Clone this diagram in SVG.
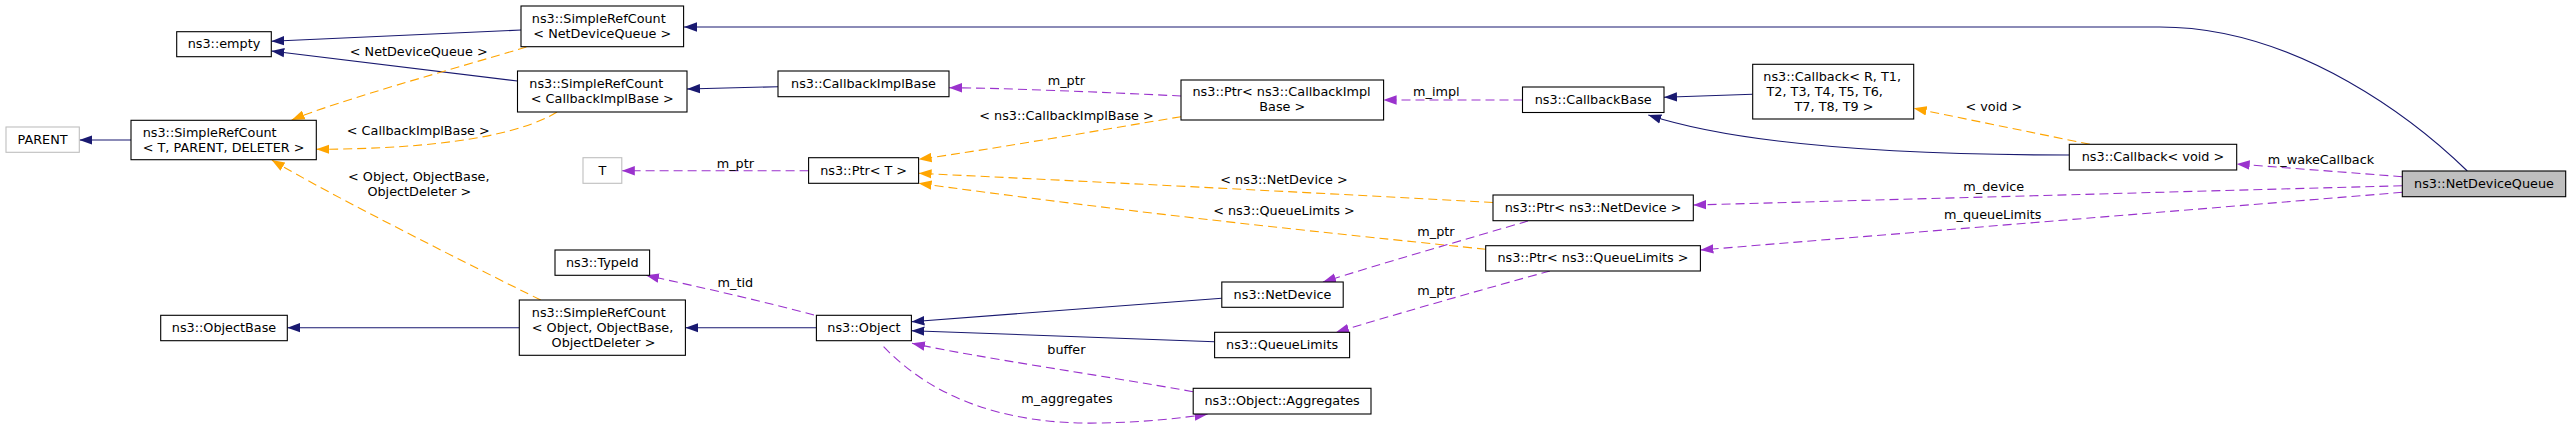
<svg xmlns="http://www.w3.org/2000/svg" width="2571" height="430" viewBox="0 0 2571 430">
<style>
text{font-family:"DejaVu Sans","Liberation Sans",sans-serif;font-size:12.8px;fill:#000}
.m{text-anchor:middle}
.node rect{fill:#fff;stroke:#000;stroke-width:1.1}
.node.grey rect{stroke:#bfbfbf}
.node.focus rect{fill:#bfbfbf}
.inh{fill:none;stroke:#191970;stroke-width:1.1;marker-end:url(#aN)}
.use{fill:none;stroke:#9a32cd;stroke-width:1.1;stroke-dasharray:9,5;marker-end:url(#aP)}
.tpl{fill:none;stroke:#ffa500;stroke-width:1.1;stroke-dasharray:9,5;marker-end:url(#aO)}
</style>
<defs>
<marker id="aN" markerUnits="userSpaceOnUse" markerWidth="13" markerHeight="10" viewBox="0 0 13 10" refX="13" refY="5" orient="auto"><path d="M0,0.3 L13,5 L0,9.7 z" fill="#191970"/></marker>
<marker id="aP" markerUnits="userSpaceOnUse" markerWidth="13" markerHeight="10" viewBox="0 0 13 10" refX="13" refY="5" orient="auto"><path d="M0,0.3 L13,5 L0,9.7 z" fill="#9a32cd"/></marker>
<marker id="aO" markerUnits="userSpaceOnUse" markerWidth="13" markerHeight="10" viewBox="0 0 13 10" refX="13" refY="5" orient="auto"><path d="M0,0.3 L13,5 L0,9.7 z" fill="#ffa500"/></marker>
</defs>
<rect width="2571" height="430" fill="#fff"/>
<g id="edges">
<path class="inh" d="M2467.3,171 C2420,125 2300,27 2160,27 L684,27"/>
<path class="inh" d="M521,30 L271.3,41.3"/>
<path class="inh" d="M517.5,81 L271.3,51"/>
<path class="inh" d="M131,140 L79.3,140"/>
<path class="tpl" d="M526.4,47 C450,70 340,100 291.7,120"/>
<text class="m" x="418.7" y="56">&lt; NetDeviceQueue &gt;</text>
<path class="tpl" d="M557,112 C520,135 440,149 316.3,149.3"/>
<text class="m" x="418.3" y="134.5">&lt; CallbackImplBase &gt;</text>
<path class="tpl" d="M540.7,300 C480,270 330,195 271.7,160"/>
<text class="m" x="418.8" y="181">&lt; Object, ObjectBase,</text>
<text class="m" x="419.3" y="195.5">ObjectDeleter &gt;</text>
<path class="inh" d="M519.3,327.7 L287.3,327.7"/>
<path class="inh" d="M778,86.7 L687,89"/>
<path class="use" d="M1181,96 C1100,92 1000,88 949,87.7"/>
<text class="m" x="1066.4" y="84.5">m_ptr</text>
<path class="tpl" d="M1181,116.7 C1100,130 1000,148 918.6,159.3"/>
<text class="m" x="1066.5" y="119.5">&lt; ns3::CallbackImplBase &gt;</text>
<path class="use" d="M808.6,170.7 L621.8,170.7"/>
<text class="m" x="735.4" y="168">m_ptr</text>
<path class="tpl" d="M1493,202.5 C1300,192 1100,182 918.6,173.3"/>
<text class="m" x="1284" y="183.5">&lt; ns3::NetDevice &gt;</text>
<path class="tpl" d="M1485.7,249.3 C1380,238 1180,219 918.6,183.3"/>
<text class="m" x="1284" y="215">&lt; ns3::QueueLimits &gt;</text>
<path class="use" d="M814,315 C770,303 700,287 646,275.3"/>
<text class="m" x="735.4" y="286.5">m_tid</text>
<path class="inh" d="M816.4,327.7 L685.4,327.7"/>
<path class="inh" d="M1221.8,298.3 L911.4,321.7"/>
<path class="inh" d="M1214.6,341.7 L911.4,330.7"/>
<path class="use" d="M1193,391.7 C1100,375 980,358 912,343.3"/>
<text class="m" x="1066.4" y="354">buffer</text>
<path class="use" d="M883.6,346.7 C930,395 1000,425 1100,423 C1150,422 1180,418 1207.5,414.3"/>
<text class="m" x="1067" y="402.5">m_aggregates</text>
<path class="use" d="M1528,221 C1470,238 1380,264 1323,282"/>
<text class="m" x="1436" y="236">m_ptr</text>
<path class="use" d="M1550,271 C1480,290 1390,316 1336,332.3"/>
<text class="m" x="1436" y="295">m_ptr</text>
<path class="use" d="M1522.5,100 L1383.6,100"/>
<text class="m" x="1436.4" y="96">m_impl</text>
<path class="inh" d="M1752.7,94.3 L1664,97.3"/>
<path class="inh" d="M2069.3,155 C1900,155 1740,145 1648.3,115"/>
<path class="tpl" d="M2090,144.3 L1913.7,108.3"/>
<text class="m" x="1993.8" y="111">&lt; void &gt;</text>
<path class="use" d="M2402.3,176.7 L2236.7,164"/>
<text class="m" x="2321" y="163.5">m_wakeCallback</text>
<path class="use" d="M2402.3,185.7 L1693.3,205"/>
<text class="m" x="1993.8" y="191">m_device</text>
<path class="use" d="M2402.3,192.3 L1700.4,250"/>
<text class="m" x="1992.8" y="218.5">m_queueLimits</text>
</g>
<g id="node-parent" class="node grey"><rect x="6" y="127" width="73.3" height="25.3"/><text class="m" x="42.6" y="143.7">PARENT</text></g>
<g id="node-empty" class="node"><rect x="176.7" y="31.7" width="94.6" height="25"/><text class="m" x="224" y="48.2">ns3::empty</text></g>
<g id="node-simplerefcount-tpd" class="node"><rect x="131" y="120.3" width="185.3" height="39.4"/><text x="142.7" y="136.5">ns3::SimpleRefCount</text><text class="m" x="223.6" y="151.5">&lt; T, PARENT, DELETER &gt;</text></g>
<g id="node-objectbase" class="node"><rect x="160.7" y="315.3" width="126.6" height="25.4"/><text class="m" x="224" y="332">ns3::ObjectBase</text></g>
<g id="node-simplerefcount-ndq" class="node"><rect x="521" y="6" width="162.6" height="40.7"/><text x="531.8" y="23">ns3::SimpleRefCount</text><text class="m" x="602.3" y="38">&lt; NetDeviceQueue &gt;</text></g>
<g id="node-simplerefcount-cib" class="node"><rect x="517.5" y="71" width="169.5" height="41"/><text x="529.3" y="88">ns3::SimpleRefCount</text><text class="m" x="602.3" y="103">&lt; CallbackImplBase &gt;</text></g>
<g id="node-callbackimplbase" class="node"><rect x="778" y="71" width="171" height="25.7"/><text class="m" x="863.5" y="88">ns3::CallbackImplBase</text></g>
<g id="node-t" class="node grey"><rect x="583" y="157.7" width="38.8" height="25.6"/><text class="m" x="602.4" y="174.5">T</text></g>
<g id="node-ptr-t" class="node"><rect x="808.6" y="157.7" width="110" height="25.6"/><text class="m" x="863.6" y="174.5">ns3::Ptr&lt; T &gt;</text></g>
<g id="node-typeid" class="node"><rect x="555" y="250" width="94.6" height="25.3"/><text class="m" x="602.3" y="266.7">ns3::TypeId</text></g>
<g id="node-simplerefcount-object" class="node"><rect x="519.3" y="300" width="166.1" height="55.3"/><text x="531.8" y="316.7">ns3::SimpleRefCount</text><text x="531.8" y="331.7">&lt; Object, ObjectBase,</text><text class="m" x="603.5" y="346.7">ObjectDeleter &gt;</text></g>
<g id="node-object" class="node"><rect x="816.4" y="315.3" width="95" height="25.4"/><text class="m" x="863.9" y="332">ns3::Object</text></g>
<g id="node-ptr-callbackimplbase" class="node"><rect x="1181" y="80" width="202.6" height="40"/><text x="1192.5" y="96">ns3::Ptr&lt; ns3::CallbackImpl</text><text class="m" x="1282.3" y="111">Base &gt;</text></g>
<g id="node-netdevice" class="node"><rect x="1221.8" y="282" width="121.4" height="25.3"/><text class="m" x="1282.5" y="298.6">ns3::NetDevice</text></g>
<g id="node-queuelimits" class="node"><rect x="1214.6" y="332.3" width="135" height="25.4"/><text class="m" x="1282.1" y="349">ns3::QueueLimits</text></g>
<g id="node-aggregates" class="node"><rect x="1193.2" y="388.3" width="177.8" height="25.7"/><text class="m" x="1282.1" y="405.2">ns3::Object::Aggregates</text></g>
<g id="node-callbackbase" class="node"><rect x="1522.5" y="87" width="141.5" height="25.5"/><text class="m" x="1593.2" y="103.8">ns3::CallbackBase</text></g>
<g id="node-ptr-netdevice" class="node"><rect x="1493" y="195" width="200.3" height="25.7"/><text class="m" x="1593.1" y="212">ns3::Ptr&lt; ns3::NetDevice &gt;</text></g>
<g id="node-ptr-queuelimits" class="node"><rect x="1485.7" y="245.7" width="214.7" height="25.3"/><text class="m" x="1593" y="262.4">ns3::Ptr&lt; ns3::QueueLimits &gt;</text></g>
<g id="node-callback-generic" class="node"><rect x="1752.7" y="64.3" width="161" height="54.7"/><text x="1763.3" y="80.7">ns3::Callback&lt; R, T1,</text><text x="1766.5" y="95.7">T2, T3, T4, T5, T6,</text><text class="m" x="1834" y="110.7">T7, T8, T9 &gt;</text></g>
<g id="node-callback-void" class="node"><rect x="2069.3" y="144.3" width="167.4" height="25.7"/><text class="m" x="2153" y="161.2">ns3::Callback&lt; void &gt;</text></g>
<g id="node-netdevicequeue" class="node focus"><rect x="2402.3" y="171" width="163.4" height="25.7"/><text class="m" x="2484" y="187.9">ns3::NetDeviceQueue</text></g>
</svg>
